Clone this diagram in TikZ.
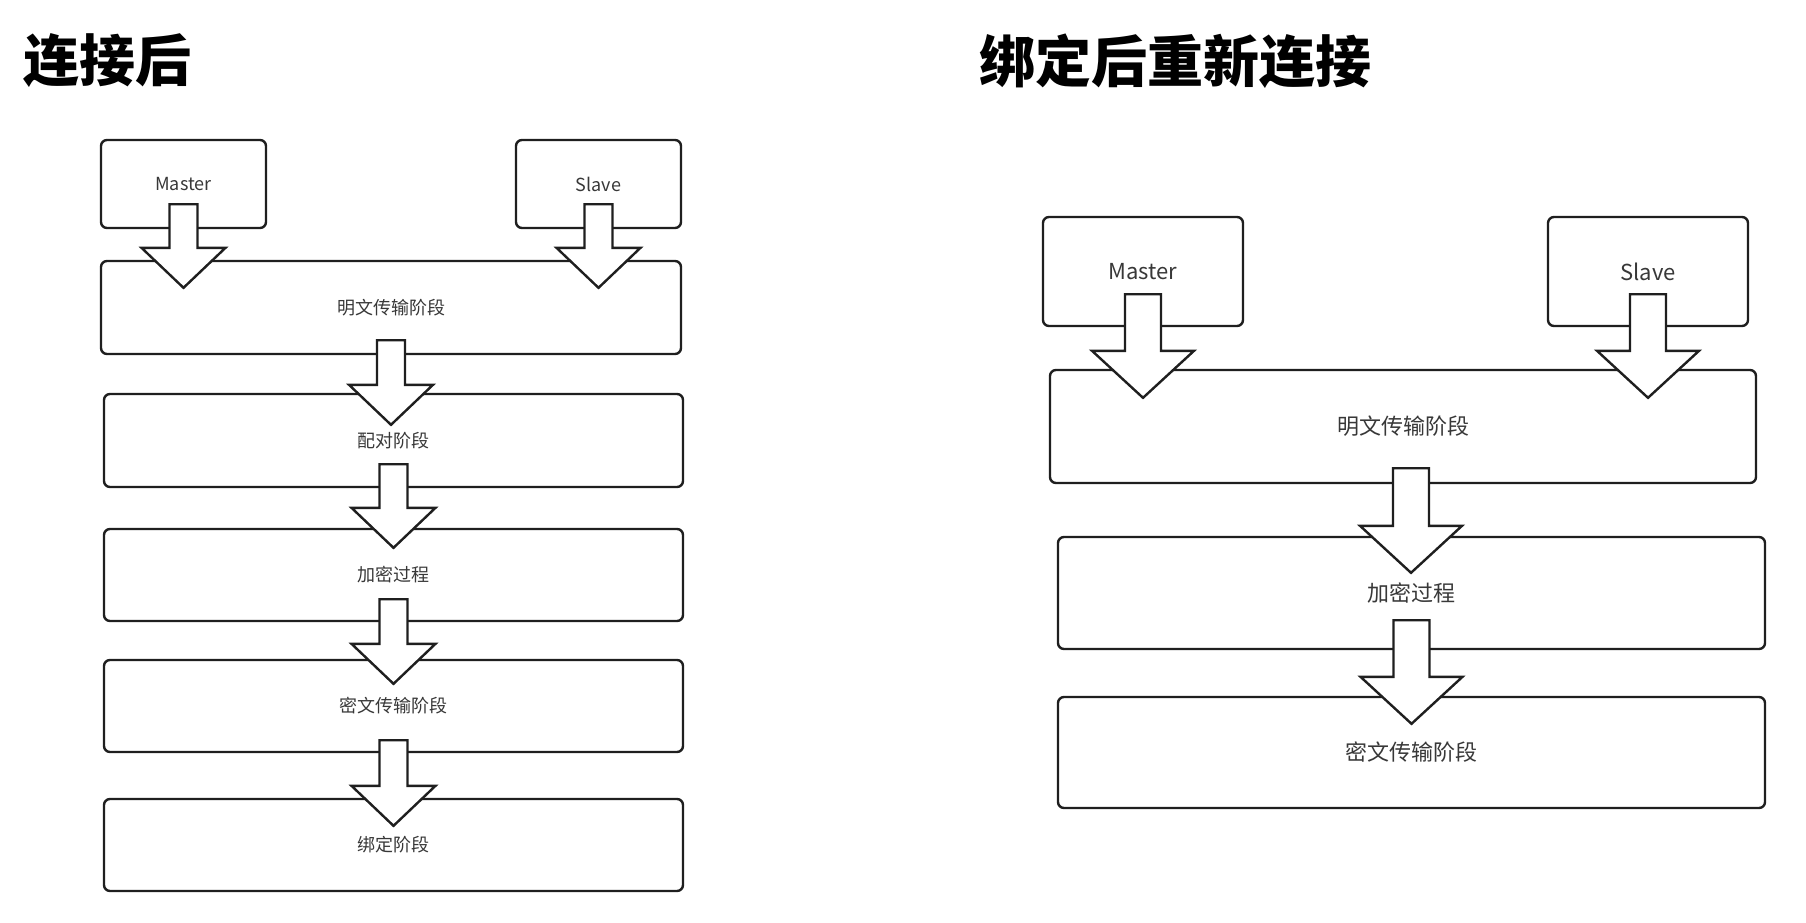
\documentclass[tikz,border=0pt]{standalone}
\usepackage{fontspec}
\setmainfont{Noto Sans CJK SC}
\usetikzlibrary{calc}

\tikzset{
  stagebox/.style={draw=black!88, line width=2.4pt, rounded corners=6pt,
    fill=white, text=black!78},
  blockarrow/.style={draw=black!88, line width=2.4pt, fill=white},
  title/.style={anchor=west, inner sep=0pt, font=\bfseries\fontsize{56}{60}\selectfont}
}

% size of the block arrows (half shaft, half head, head length)
\def\shaft{14}\def\head{42}\def\headlen{40}

% #1 x shift, #2 source node, #3 target node, #4 rise into source, #5 drop into target
\newcommand{\blockarrow}[5][0]{%
  \coordinate (tail) at ($(#2.south)+(#1,-#4)$);
  \coordinate (tip) at ($(#2.south |- #3.north)+(#1,#5)$);
  \draw[blockarrow] ($(tail)+(-\shaft,0)$) -- ($(tip)+(-\shaft,-\headlen)$)
    -- ($(tip)+(-\head,-\headlen)$) -- (tip) -- ($(tip)+(\head,-\headlen)$)
    -- ($(tip)+(\shaft,-\headlen)$) -- ($(tail)+(\shaft,0)$) -- cycle;
}

\begin{document}
\begin{tikzpicture}[x=1pt, y=-1pt]
  \useasboundingbox (0,0) rectangle (1806,922);

  % Titles
  \node[title] (tleft) at (23,61) {连接后};
  \node[title] (tright) at (979,61) {绑定后重新连接};

  % Left diagram: first connection
  \begin{scope}[every node/.append style={font=\fontsize{18}{20}\selectfont}]
    \node[stagebox, minimum width=165, minimum height=88] (mL) at (183.5,184) {Master};
    \node[stagebox, minimum width=165, minimum height=88] (sL) at (598.5,184) {Slave};
    \node[stagebox, minimum width=580, minimum height=93] (a1) at (391,307.5) {明文传输阶段};
    \node[stagebox, minimum width=579, minimum height=93] (a2) at (393.5,440.5) {配对阶段};
    \node[stagebox, minimum width=579, minimum height=92] (a3) at (393.5,575) {加密过程};
    \node[stagebox, minimum width=579, minimum height=92] (a4) at (393.5,706) {密文传输阶段};
    \node[stagebox, minimum width=579, minimum height=92] (a5) at (393.5,845) {绑定阶段};

    % Block arrows
    \blockarrow{mL}{a1}{25}{28}
    \blockarrow{sL}{a1}{25}{28}
    \blockarrow{a1}{a2}{15}{32}
    \blockarrow{a2}{a3}{24}{20}
    \blockarrow{a3}{a4}{23}{25}
    \blockarrow{a4}{a5}{13}{28}
  \end{scope}

  % Right diagram: reconnection after bonding
  \def\shaft{18}\def\head{51}\def\headlen{47}
  \begin{scope}[every node/.append style={font=\fontsize{22}{24}\selectfont}]
    \node[stagebox, minimum width=200, minimum height=109] (mR) at (1143,271.5) {Master};
    \node[stagebox, minimum width=200, minimum height=109] (sR) at (1648,271.5) {Slave};
    \node[stagebox, minimum width=706, minimum height=113] (b1) at (1403,426.5) {明文传输阶段};
    \node[stagebox, minimum width=707, minimum height=112] (b2) at (1411.5,593) {加密过程};
    \node[stagebox, minimum width=707, minimum height=111] (b3) at (1411.5,752.5) {密文传输阶段};

    % Block arrows
    \blockarrow{mR}{b1}{33}{29}
    \blockarrow{sR}{b1}{33}{29}
    \blockarrow[8]{b1}{b2}{16}{37}
    \blockarrow{b2}{b3}{30}{28}
  \end{scope}
\end{tikzpicture}
\end{document}
